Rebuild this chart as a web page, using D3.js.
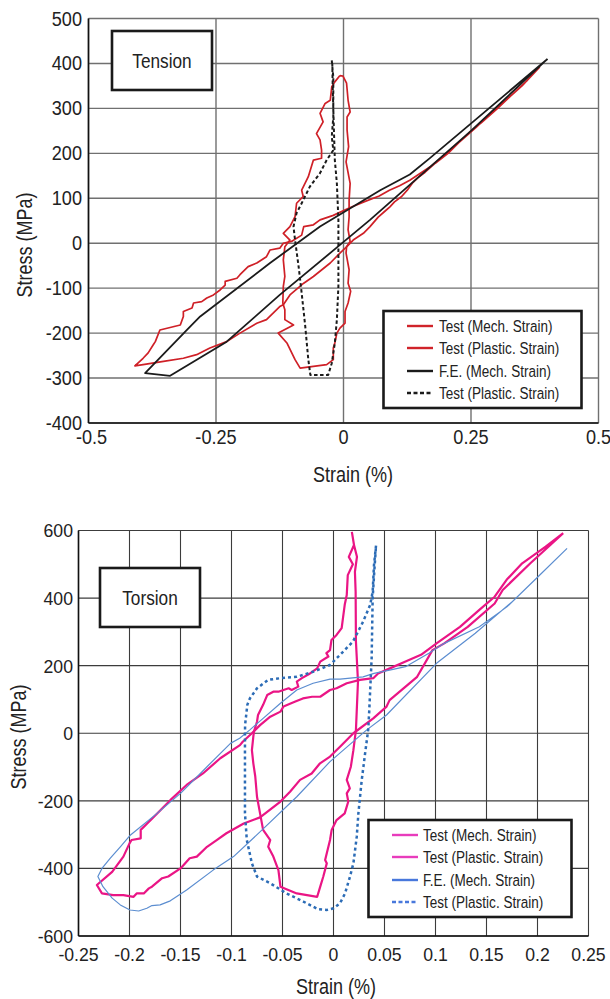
<!DOCTYPE html>
<html><head><meta charset="utf-8">
<script src="https://cdn.jsdelivr.net/npm/d3@7/dist/d3.min.js"></script>
<style>
html,body{margin:0;padding:0;background:#fff;}
svg text{font-family:"Liberation Sans",Arial,sans-serif;fill:#222;}
</style></head>
<body><svg id="c" width="610" height="999"></svg>
<script>
// ---------- Tension data ----------
const tensionXTicks = [-0.5, -0.25, 0, 0.25, 0.5];
const tensionXLabels = ["-0.5", "-0.25", "0", "0.25", "0.5"];
const tensionYTicks = [-400, -300, -200, -100, 0, 100, 200, 300, 400, 500];
const tensionTestMech = [
[0.385,392],[0.36,362],[0.33,330],[0.30,298],[0.27,268],[0.25,250],[0.23,228],[0.205,200],[0.18,178],[0.16,158],[0.145,145],[0.136,135],[0.125,118],[0.114,104],[0.1,92],[0.091,81],[0.08,70],[0.068,58],[0.052,37],[0.039,22],[0.019,7],[0.006,-8],[-0.007,-22],[-0.026,-44],[-0.059,-74],[-0.078,-89],[-0.105,-115],[-0.118,-137],[-0.125,-141],[-0.151,-170],[-0.17,-178],[-0.203,-200],[-0.229,-219],[-0.262,-233],[-0.288,-248],[-0.314,-256],[-0.353,-263],[-0.393,-270],[-0.409,-273],
[-0.393,-256],[-0.383,-244],[-0.373,-226],[-0.369,-219],[-0.36,-193],[-0.32,-182],[-0.314,-163],[-0.314,-152],[-0.297,-144],[-0.294,-133],[-0.278,-130],[-0.268,-122],[-0.255,-115],[-0.242,-104],[-0.232,-93],[-0.232,-85],[-0.209,-78],[-0.203,-70],[-0.187,-52],[-0.17,-44],[-0.151,-30],[-0.144,-15],[-0.125,-11],[-0.118,0],[-0.102,4],[-0.082,18],[-0.078,37],[-0.059,41],[-0.046,52],[-0.02,62],[0.01,78],[0.04,92],[0.07,105],[0.09,118],[0.11,128],[0.13,140],[0.15,155],[0.17,170],[0.2,198],[0.23,228],[0.26,258],[0.29,290],[0.32,320],[0.35,350],[0.385,392]
];
const tensionTestPlastic = [
[-0.007,373],[-0.017,359],[-0.023,348],[-0.026,318],[-0.036,311],[-0.046,289],[-0.04,270],[-0.053,244],[-0.046,230],[-0.043,207],[-0.043,189],[-0.059,185],[-0.069,148],[-0.082,118],[-0.079,104],[-0.092,89],[-0.095,59],[-0.105,37],[-0.118,22],[-0.105,7],[-0.115,-8],[-0.118,-37],[-0.115,-74],[-0.118,-96],[-0.119,-133],[-0.115,-148],[-0.115,-170],[-0.098,-182],[-0.128,-200],[-0.111,-222],[-0.095,-259],[-0.085,-278],[-0.059,-274],[-0.033,-270],[-0.02,-259],[-0.02,-233],[-0.017,-222],[-0.013,-200],[-0.007,-189],[0.003,-178],[0.003,-152],[0.009,-133],[0.014,-107],[0.009,-89],[0.011,-59],[0.005,-22],[0.006,-8],[0.013,4],[0.009,30],[0.011,59],[0.011,96],[0.013,133],[0.005,181],[0.01,215],[0.007,252],[0.007,281],[0.013,292],[0.009,318],[0.006,356],[-0.001,372],[-0.007,373]
];
const tensionFEMech = [
[0.40,410],[0.25,250],[0.052,52],[-0.004,-1],[-0.125,-115],[-0.229,-219],[-0.34,-295],[-0.389,-289],[-0.307,-193],[-0.281,-163],[-0.144,-44],[-0.046,37],[0.072,118],[0.13,153],[0.17,190],[0.40,410]
];
const tensionFEPlastic = [
[-0.023,407],[-0.02,370],[-0.02,318],[-0.02,281],[-0.023,237],[-0.02,207],[-0.033,185],[-0.046,156],[-0.066,126],[-0.082,89],[-0.092,67],[-0.098,37],[-0.095,7],[-0.088,-52],[-0.082,-111],[-0.075,-185],[-0.069,-259],[-0.065,-293],[-0.03,-293],[-0.023,-267],[-0.017,-222],[-0.013,-170],[-0.01,-96],[-0.01,-22],[-0.01,52],[-0.013,133],[-0.017,185],[-0.019,260],[-0.021,340],[-0.022,400]
];
const tensionLegend = ["Test (Mech. Strain)", "Test (Plastic. Strain)", "F.E. (Mech. Strain)", "Test (Plastic. Strain)"];

// ---------- Torsion data ----------
const torsionXTicks = [-0.25,-0.2,-0.15,-0.1,-0.05,0,0.05,0.1,0.15,0.2,0.25];
const torsionXLabels = ["-0.25","-0.2","-0.15","-0.1","-0.05","0","0.05","0.1","0.15","0.2","0.25"];
const torsionYTicks = [-600,-400,-200,0,200,400,600];
const torsionTestMech = [
[0.2252,592],[0.208,552],[0.185,503],[0.1697,454],[0.158,404],[0.143,365],[0.124,315],[0.101,266],[0.0858,232],[0.0706,212],[0.0553,192],[0.0437,177],[0.039,163],[0.026,158],[0.013,148],[0.003,133],[-0.0034,128],[-0.013,108],[-0.021,108],[-0.03,103],[-0.038,93],[-0.049,79],[-0.052,64],[-0.062,49],[-0.072,24],[-0.08,0],[-0.089,-25],[-0.0917,-35],[-0.111,-74],[-0.128,-119],[-0.144,-153],[-0.16,-198],[-0.176,-247],[-0.189,-286],[-0.189,-311],[-0.198,-316],[-0.2,-326],[-0.206,-365],[-0.217,-410],[-0.232,-449],
[-0.227,-474],[-0.216,-479],[-0.206,-479],[-0.196,-484],[-0.193,-474],[-0.186,-474],[-0.181,-459],[-0.178,-454],[-0.168,-429],[-0.162,-424],[-0.15,-400],[-0.141,-370],[-0.134,-365],[-0.124,-336],[-0.1145,-316],[-0.105,-296],[-0.088,-267],[-0.072,-249],[-0.052,-202],[-0.0426,-173],[-0.0328,-138],[-0.0214,-119],[-0.0132,-89],[-0.0034,-69],[0.0064,-40],[0.0195,0],[0.039,44],[0.052,79],[0.055,98],[0.082,167],[0.097,246],[0.1086,266],[0.1316,315],[0.158,384],[0.1659,424],[0.193,503],[0.2252,592]
];
const torsionTestPlastic = [
[0.018,596],[0.0201,557],[0.015,522],[0.019,500],[0.014,468],[0.013,409],[0.011,380],[0.0097,350],[0.008,311],[0.003,291],[-0.002,276],[-0.0034,246],[-0.007,237],[-0.005,227],[-0.013,212],[-0.016,192],[-0.023,177],[-0.031,163],[-0.036,153],[-0.0345,138],[-0.041,128],[-0.044,133],[-0.049,128],[-0.054,123],[-0.059,123],[-0.065,113],[-0.069,84],[-0.074,54],[-0.075,34],[-0.078,5],[-0.0786,-10],[-0.080,-50],[-0.0786,-89],[-0.0767,-128],[-0.075,-188],[-0.072,-237],[-0.069,-286],[-0.062,-316],[-0.064,-336],[-0.059,-365],[-0.054,-405],[-0.052,-454],[-0.036,-474],[-0.016,-484],[-0.013,-454],[-0.01,-424],[-0.0066,-385],[-0.0082,-375],[-0.0034,-316],[-0.0018,-286],[0.003,-257],[0.011,-237],[0.0145,-202],[0.013,-178],[0.016,-163],[0.013,-138],[0.017,-99],[0.0195,-50],[0.022,10],[0.024,153],[0.022,271],[0.0217,419],[0.021,478],[0.023,522],[0.0201,557],[0.018,596]
];
const torsionFEMech = [
[0.229,547],[0.2005,463],[0.17,374],[0.143,315],[0.1086,266],[0.0935,237],[0.0706,197],[0.055,187],[0.0397,177],[0.029,167],[0.0064,160],[-0.0034,160],[-0.02,148],[-0.036,128],[-0.052,89],[-0.069,44],[-0.082,10],[-0.092,-15],[-0.101,-30],[-0.124,-99],[-0.15,-178],[-0.173,-237],[-0.199,-301],[-0.209,-336],[-0.219,-370],[-0.227,-400],[-0.231,-424],[-0.226,-454],[-0.217,-488],[-0.209,-508],[-0.1995,-523],[-0.191,-526],[-0.183,-518],[-0.178,-510],[-0.17,-508],[-0.16,-496],[-0.144,-464],[-0.118,-405],[-0.098,-365],[-0.07,-286],[-0.036,-188],[-0.0034,-84],[0.0326,10],[0.052,54],[0.101,207],[0.139,296],[0.177,394],[0.229,547]
];
const torsionFEPlastic = [
[0.0417,555],[0.0397,498],[0.0384,419],[0.036,380],[0.029,330],[0.019,271],[0.0064,232],[-0.0034,202],[-0.02,182],[-0.036,167],[-0.052,163],[-0.064,158],[-0.075,133],[-0.082,103],[-0.0845,84],[-0.0867,24],[-0.0868,-40],[-0.0868,-188],[-0.0868,-237],[-0.085,-316],[-0.080,-385],[-0.075,-424],[-0.062,-444],[-0.046,-474],[-0.0296,-498],[-0.0149,-521],[-0.0067,-523],[0.0,-518],[0.0064,-503],[0.0113,-474],[0.0162,-424],[0.0195,-385],[0.0228,-306],[0.0244,-237],[0.0277,-138],[0.031,-59],[0.034,10],[0.035,64],[0.0374,222],[0.0384,400],[0.040,480],[0.0417,555]
];
const torsionLegend = ["Test (Mech. Strain)", "Test (Plastic. Strain)", "F.E. (Mech. Strain)", "Test (Plastic. Strain)"];

const svg = d3.select("#c");

// condensed text helper: places text at (x,y) and squeezes it horizontally
function ntext(g, x, y, str, size, anchor, sx, rot){
  return g.append("text")
    .attr("transform", `translate(${x},${y})${rot ? " rotate("+rot+")" : ""} scale(${sx},1)`)
    .attr("text-anchor", anchor || "start").attr("font-size", size).text(str);
}

function drawPanel(o){
  const g = svg.append("g");
  const x = d3.scaleLinear().domain(o.xDomain).range([o.left, o.right]);
  const y = d3.scaleLinear().domain(o.yDomain).range([o.bottom, o.top]);
  // gridlines
  g.selectAll(".vg").data(o.xTicks).join("line")
    .attr("x1", d=>x(d)).attr("x2", d=>x(d)).attr("y1", o.top).attr("y2", o.bottom)
    .attr("stroke", o.gridColor).attr("stroke-width", o.gridWidth);
  g.selectAll(".hg").data(o.yTicks).join("line")
    .attr("y1", d=>y(d)).attr("y2", d=>y(d)).attr("x1", o.left).attr("x2", o.right)
    .attr("stroke", o.gridColor).attr("stroke-width", o.gridWidth);
  // axes
  g.append("line").attr("x1", o.left).attr("x2", o.left).attr("y1", o.top).attr("y2", o.bottom).attr("stroke", "#111").attr("stroke-width", 1.6);
  g.append("line").attr("x1", o.left).attr("x2", o.right).attr("y1", o.bottom).attr("y2", o.bottom).attr("stroke", "#111").attr("stroke-width", 1.6);
  // tick labels
  o.xTicks.forEach((d,i)=> ntext(g, x(d) + (i===0 ? o.firstXShift : 0), o.xLabelY, o.xLabels[i], o.tickFont, "middle", 0.93));
  o.yTicks.forEach(d=> ntext(g, o.yLabelX, y(d)+o.tickFont*0.36, String(d), o.tickFont, "end", 0.93));
  // axis titles
  ntext(g, o.xTitleX, o.xTitleY, "Strain (%)", 22, "middle", 0.82);
  ntext(g, o.yTitleX, o.yTitleY, "Stress (MPa)", 22, "middle", 0.82, -90);
  // series
  const line = d3.line().x(d=>x(d[0])).y(d=>y(d[1]));
  o.series.forEach(s=>{
    g.append("path").attr("d", line(s.data)).attr("fill","none")
      .attr("stroke", s.color).attr("stroke-width", s.width)
      .attr("stroke-dasharray", s.dash || null)
      .attr("stroke-linejoin","round");
  });
  // title box
  g.append("rect").attr("x", o.box[0]).attr("y", o.box[1]).attr("width", o.box[2]).attr("height", o.box[3])
    .attr("fill","#fff").attr("stroke","#1a1a1a").attr("stroke-width",2.6);
  ntext(g, o.box[0]+o.box[2]/2, o.box[1]+o.box[3]/2+7.5, o.title, 21, "middle", 0.82);
  // legend
  const L = o.legend;
  g.append("rect").attr("x", L.x).attr("y", L.y).attr("width", L.w).attr("height", L.h)
    .attr("fill","#fff").attr("stroke","#1a1a1a").attr("stroke-width",2.6);
  L.labels.forEach((lab,i)=>{
    const cy = L.rows[i];
    const s = o.series[i];
    g.append("line").attr("x1", L.sx1).attr("x2", L.sx2).attr("y1", cy).attr("y2", cy)
      .attr("stroke", L.colors[i]).attr("stroke-width", 2.4).attr("stroke-dasharray", s.dash ? "4,2.5" : null);
    ntext(g, L.tx, cy+5.8, lab, 16.5, "start", 0.82);
  });
}

drawPanel({
  xDomain:[-0.5,0.5], yDomain:[-400,500], left:88.5, right:598.5, top:18.5, bottom:423,
  xTicks:tensionXTicks, xLabels:tensionXLabels, yTicks:tensionYTicks,
  gridColor:"#707070", gridWidth:1.4, tickFont:19.5, xLabelY:443.5, yLabelX:82, firstXShift:3,
  xTitleX:353, xTitleY:482, yTitleX:32, yTitleY:245,
  series:[
    {data:tensionTestMech, color:"#cf2027", width:1.7},
    {data:tensionTestPlastic, color:"#cf2027", width:1.7},
    {data:tensionFEMech, color:"#1b1b1b", width:1.8},
    {data:tensionFEPlastic, color:"#1b1b1b", width:2, dash:"3.5,2.5"}
  ],
  box:[112,31,100,59], title:"Tension",
  legend:{x:383.5,y:311,w:198,h:97,labels:tensionLegend,rows:[326,348,371,393],sx1:407,sx2:433,tx:439,
    colors:["#d0232a","#d0232a","#1b1b1b","#1b1b1b"]}
});

drawPanel({
  xDomain:[-0.25,0.25], yDomain:[-600,600], left:78.5, right:588.5, top:530.5, bottom:936,
  xTicks:torsionXTicks, xLabels:torsionXLabels, yTicks:torsionYTicks,
  gridColor:"#3c3c3c", gridWidth:1.1, tickFont:19, xLabelY:961, yLabelX:73, firstXShift:0,
  xTitleX:336, xTitleY:994, yTitleX:25.5, yTitleY:737,
  series:[
    {data:torsionTestMech, color:"#ea1585", width:2.2},
    {data:torsionTestPlastic, color:"#ea1585", width:2.2},
    {data:torsionFEMech, color:"#5b8dd0", width:1.2},
    {data:torsionFEPlastic, color:"#2c6cb6", width:2.5, dash:"3,3"}
  ],
  box:[100,568,100,59], title:"Torsion",
  legend:{x:368.5,y:820,w:203,h:97,labels:torsionLegend,rows:[835,857,880,902],sx1:392,sx2:418,tx:423,
    colors:["#e83cbc","#e83cbc","#4878dc","#4878dc"]}
});
</script></body></html>
